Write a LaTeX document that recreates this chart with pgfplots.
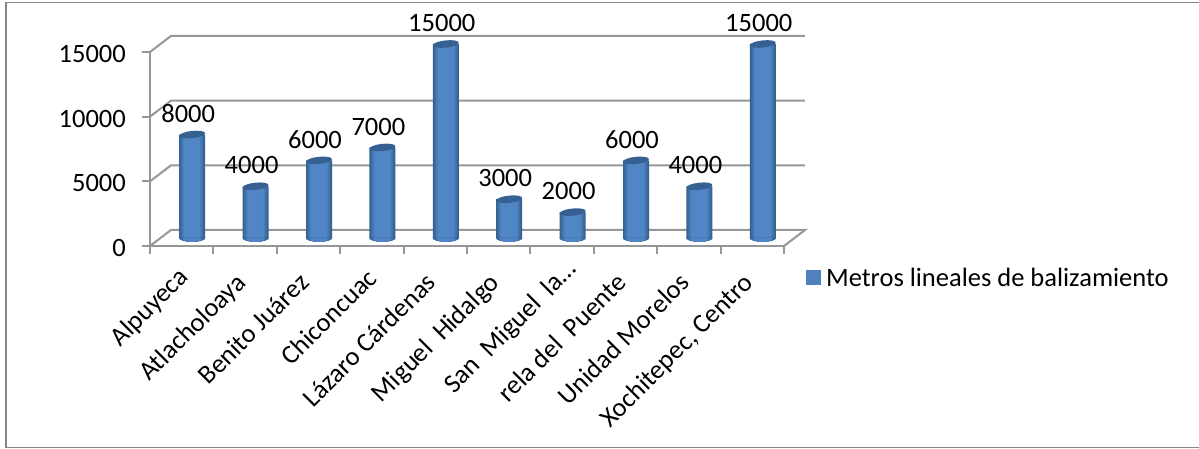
\documentclass[border=0pt]{standalone}
\usepackage{fontspec}
\setmainfont{Carlito}
\usepackage{pgfplots}
\usepackage{pgfplotstable}
\pgfplotsset{compat=1.18}
\definecolor{framegray}{HTML}{868686}
\definecolor{gridgray}{HTML}{969696}
\definecolor{barmid}{HTML}{5086C6}
\definecolor{baredge}{HTML}{35608F}
\definecolor{bartop}{HTML}{376092}
\definecolor{legblue}{HTML}{4F81BD}

\newcommand{\chartfont}{\fontsize{26.5}{30}\selectfont}

\pgfdeclareplotmark{cyltop}{%
  \pgftransformrotate{6}%
  \pgfsetfillcolor{bartop}%
  \pgfpathellipse{\pgfpointorigin}{\pgfpoint{13pt}{0pt}}{\pgfpoint{0pt}{3.6pt}}%
  \pgfusepathqfill
}
% base of a cylinder: half ellipses narrowing to the lit middle
\newcommand{\basestrip}[2]{%
  \fill[baredge!#2!barmid,rotate=6] (-#1pt,0pt) arc [start angle=180, end angle=360, x radius=#1pt, y radius=3.6pt] -- cycle;%
}
\pgfdeclareplotmark{cylbase}{%
  \basestrip{13}{100}\basestrip{12}{80}\basestrip{11}{60}\basestrip{10}{40}\basestrip{9}{20}\basestrip{8}{0}%
}

% pos, value, base
\pgfplotstableread{
pos val base
0 8000 0
1 4000 0
2 6000 0
3 7000 0
4 15000 0
5 3000 0
6 2000 0
7 6000 0
8 4000 0
9 15000 0
}\bardata

% one vertical strip of a cylinder, dark at the edge, lighter inwards
\newcommand{\barstrip}[2]{%
  \addplot[ybar,bar width=#1pt,bar shift=0pt,draw=none,fill=baredge!#2!barmid,forget plot]
    table[x=pos,y=val] {\bardata};%
}

\begin{document}
\begin{tikzpicture}[x=1pt,y=1pt]
  \path[use as bounding box] (0,0) rectangle (1199,449);
  % outer chart frame, open on the right
  \draw[framegray,line width=1.5pt] (1199,446.5) -- (6,446.5) -- (6,1.5) -- (1199,1.5);

  % front plane: ticks, labels and the 3D walls
  \begin{axis}[
    at={(150pt,203pt)}, anchor=south west,
    width=634pt, height=194pt, scale only axis,
    xmin=-0.5, xmax=9.5, ymin=0, ymax=15000,
    clip=false,
    axis x line*=bottom, axis y line*=left,
    axis line style={-,gridgray,line width=2pt},
    tick style={gridgray,line width=2pt},
    major tick length=8pt,
    tick align=outside,
    xtick={-0.5,0.5,1.5,2.5,3.5,4.5,5.5,6.5,7.5,8.5,9.5},
    x tick label as interval,
    % the kerns slide a label along its slope, as the short ones sit higher in the reference
    xticklabels={Alpuyeca\kern-8pt,Atlacholoaya,Benito Juárez,Chiconcuac\kern-6pt,Lázaro Cárdenas,
      Miguel~~Hidalgo,San~~Miguel~~la…\kern-19pt,rela del~~Puente,Unidad Morelos,{Xochitepec, Centro}},
    x tick label style={font=\chartfont,xshift=-11pt,yshift=-17pt,rotate=45,anchor=north east,inner sep=0pt},
    ytick={0,5000,10000,15000},
    scaled y ticks=false,
    y tick label style={font=\chartfont,inner sep=0pt,xshift=-16pt,yshift=-2pt,
      /pgf/number format/1000 sep={},/pgf/number format/assume math mode=true},
  ]
    \addplot[gridgray,line width=2pt,forget plot] coordinates {(-0.5,0) (-0.169,1237) (9.831,1237) (9.5,0)};
    \addplot[gridgray,line width=2pt,forget plot] coordinates {(-0.5,5000) (-0.169,6237) (9.831,6237)};
    \addplot[gridgray,line width=2pt,forget plot] coordinates {(-0.5,10000) (-0.169,11237) (9.831,11237)};
    \addplot[gridgray,line width=2pt,forget plot] coordinates {(-0.5,15000) (-0.169,16237) (9.831,16237)};
  \end{axis}

  % cylinders stand midway between the front plane and the back wall
  \begin{axis}[
    at={(160.5pt,211pt)}, anchor=south west,
    width=634pt, height=194pt, scale only axis,
    xmin=-0.5, xmax=9.5, ymin=0, ymax=15000,
    clip=false, hide axis,
    legend style={at={(1.018,-0.206)},anchor=west,draw=none,fill=none,inner sep=0pt,
      font=\chartfont,legend cell align=left},
    legend image code/.code={\fill[legblue] (0pt,-7.5pt) rectangle (15pt,7.5pt);},
  ]
    \addplot[only marks,mark=cylbase,forget plot] table[x=pos,y=base] {\bardata};
    \addplot[ybar,bar width=26pt,bar shift=0pt,draw=none,fill=baredge] table[x=pos,y=val] {\bardata};
    \addlegendentry{\hspace*{3pt}Metros lineales de balizamiento}
    \barstrip{24}{80}
    \barstrip{22}{60}
    \barstrip{20}{40}
    \barstrip{18}{20}
    \barstrip{16}{0}
    \addplot[only marks,mark=cyltop,forget plot] table[x=pos,y=val] {\bardata};
    % value labels, no mark of their own
    \addplot[draw=none,mark=none,forget plot,
      nodes near coords={\pgfmathprintnumber[1000 sep={},assume math mode=true]{\pgfplotspointmeta}},
      nodes near coords style={font=\chartfont,text=black,anchor=south,inner sep=0pt,xshift=-4pt,yshift=12pt},
      point meta=y] table[x=pos,y=val] {\bardata};
  \end{axis}
\end{tikzpicture}
\end{document}
